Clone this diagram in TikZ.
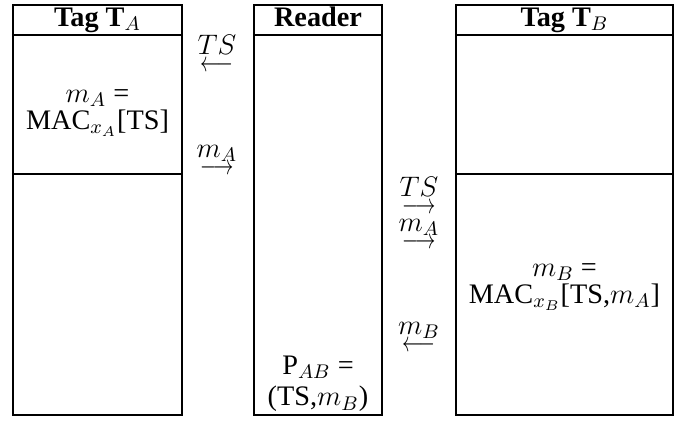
\documentclass[tikz,border=0pt]{standalone}
\usepackage{fix-cm}
\usepackage{amsmath}
\usepackage{graphicx}
\usepackage{fontspec}
\setmainfont{Liberation Serif}
\usetikzlibrary{positioning}

\newcommand{\toright}{\scalebox{0.72}[1]{$\longrightarrow$}}
\newcommand{\toleft}{\scalebox{0.72}[1]{$\longleftarrow$}}

\begin{document}
\begin{tikzpicture}[x=0.46pt, y=-0.46pt,
  font=\fontsize{13}{12.3}\selectfont,
  col/.style={draw, line width=1pt, minimum height=188.6pt, inner sep=0pt},
  rule/.style={line width=1pt},
  head/.style={anchor=base, font=\fontsize{13}{12.3}\selectfont\bfseries},
  cell/.style={align=center},
  msg/.style={align=center, inner sep=0pt}
]
\useasboundingbox (0,0) rectangle (686,422);

% the three columns
\node[col, minimum width=77.7pt] (tagA) at (97.5,210) {};
\node[col, minimum width=58.9pt] (reader) at (318,210) {};
\node[col, minimum width=99.8pt] (tagB) at (564.5,210) {};

% header and round lines
\draw[rule] (tagA.west |- 0,35) -- (tagA.east |- 0,35);
\draw[rule] (reader.west |- 0,35) -- (reader.east |- 0,35);
\draw[rule] (tagB.west |- 0,35) -- (tagB.east |- 0,35);
\draw[rule] (tagA.west |- 0,174) -- (tagA.east |- 0,174);
\draw[rule] (tagB.west |- 0,174) -- (tagB.east |- 0,174);

\node[head] (headA) at (97.5,26) {Tag T$_A$};
\node[head] (headR) at (318,26) {Reader};
\node[head] (headB) at (564.5,26) {Tag T$_B$};

% cell contents
\node[cell] (macA) at (97.5,113) {$m_A$ =\\MAC$_{x_A}$[TS]};
\node[cell] (macB) at (564.5,287) {$m_B$ =\\MAC$_{x_B}$[TS,$m_A$]};
\node[cell] (pAB) at (318,384) {P$_{AB}$ =\\[2pt](TS,$m_B$)};

% messages
\node[msg] (ts1) at (217,53) {$TS$\\[-4.5pt]\toleft};
\node[msg] (mA1) at (217,160) {$m_A$\\[-4.5pt]\toright};
\node[msg] (ts2) at (419,195) {$TS$\\[-4.5pt]\toright};
\node[msg] (mA2) at (419,234) {$m_A$\\[-4.5pt]\toright};
\node[msg] (mB) at (419,337) {$m_B$\\[-4.5pt]\toleft};

\end{tikzpicture}
\end{document}
